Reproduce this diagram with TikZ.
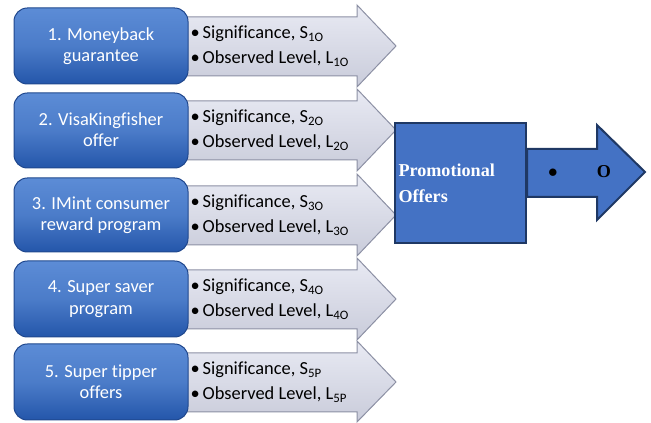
\documentclass[tikz,border=0pt]{standalone}
\usepackage{fontspec}
\setmainfont[Ligatures=NoCommon]{Carlito}
\newfontfamily\timesfont{Liberation Serif}
\usetikzlibrary{positioning}

\definecolor{promoblue}{RGB}{68,114,196}
\definecolor{promoedge}{RGB}{31,56,100}
\definecolor{boxtop}{RGB}{92,140,214}
\definecolor{boxbot}{RGB}{36,86,170}
\definecolor{boxedge}{RGB}{32,72,142}
\definecolor{arrowfill}{RGB}{214,217,234}
\definecolor{arrowedge}{RGB}{140,144,164}

\tikzset{every picture/.style={line width=0.75pt}}
\tikzset{
  offerbox/.style={draw=boxedge, rounded corners=10, top color=boxtop, bottom color=boxbot, middle color=boxtop!70!boxbot},
  offerarrow/.style={draw=arrowedge, top color=arrowfill!55!white, bottom color=arrowfill!85!gray},
  offertext/.style={inner sep=0.75pt, text=white, align=center, font=\fontsize{13.8}{16}\selectfont},
  bullettext/.style={anchor=west, inner sep=0.75pt, font=\fontsize{13.8}{15}\selectfont}
}

\begin{document}
\begin{tikzpicture}[x=0.75pt,y=0.75pt,yscale=-1,xscale=1]
\useasboundingbox (0,0) rectangle (651,423);

%Arrows behind the offer boxes
\draw [offerarrow] (180,17) -- (357,17) -- (357,5) -- (396,46) -- (357,87) -- (357,76) -- (180,76) -- cycle ;
\draw [offerarrow] (180,101) -- (357,101) -- (357,89) -- (396,130) -- (357,171) -- (357,160) -- (180,160) -- cycle ;
\draw [offerarrow] (180,186) -- (357,186) -- (357,174) -- (396,215) -- (357,256) -- (357,245) -- (180,245) -- cycle ;
\draw [offerarrow] (180,270) -- (357,270) -- (357,258) -- (396,299) -- (357,340) -- (357,329) -- (180,329) -- cycle ;
\draw [offerarrow] (180,353) -- (357,353) -- (357,341) -- (396,382) -- (357,422) -- (357,412) -- (180,412) -- cycle ;

%Offer boxes
\draw [offerbox] (14,8) rectangle (188,84) ;
\draw [offerbox] (14,93) rectangle (188,168) ;
\draw [offerbox] (14,178) rectangle (188,252) ;
\draw [offerbox] (14,261) rectangle (188,337) ;
\draw [offerbox] (14,344) rectangle (188,420) ;

% Text Node
\node [offertext] (m1) at (101,46) {1. Moneyback\\guarantee};
% Text Node
\node [offertext] (m2) at (101,130) {2. VisaKingfisher\\offer};
% Text Node
\node [offertext] (m3) at (101,215) {3. IMint consumer\\reward program};
% Text Node
\node [offertext] (m4) at (101,299) {4. Super saver\\program};
% Text Node
\node [offertext] (m5) at (101,382) {5. Super tipper\\offers};

% Text Node
\node [bullettext] (s1) at (189,34) {\textbullet\,Significance, S\textsubscript{1O}};
\node [bullettext] (l1) at (189,59) {\textbullet\,Observed Level, L\textsubscript{1O}};
% Text Node
\node [bullettext] (s2) at (189,118) {\textbullet\,Significance, S\textsubscript{2O}};
\node [bullettext] (l2) at (189,143) {\textbullet\,Observed Level, L\textsubscript{2O}};
% Text Node
\node [bullettext] (s3) at (189,203) {\textbullet\,Significance, S\textsubscript{3O}};
\node [bullettext] (l3) at (189,228) {\textbullet\,Observed Level, L\textsubscript{3O}};
% Text Node
\node [bullettext] (s4) at (189,287) {\textbullet\,Significance, S\textsubscript{4O}};
\node [bullettext] (l4) at (189,312) {\textbullet\,Observed Level, L\textsubscript{4O}};
% Text Node
\node [bullettext] (s5) at (189,370) {\textbullet\,Significance, S\textsubscript{5P}};
\node [bullettext] (l5) at (189,395) {\textbullet\,Observed Level, L\textsubscript{5P}};

%Promotional offers box
\draw [draw=promoedge, fill=promoblue, line width=1.5] (395,123) rectangle (526,243) ;
% Text Node
\node [anchor=west, inner sep=0.75pt, text=white, align=left, font=\timesfont\bfseries\fontsize{13.6}{19.5}\selectfont] (promo) at (397,183) {Promotional\\Offers};

%Output arrow
\draw [draw=promoedge, fill=promoblue, line width=1.5] (527,149) -- (597,149) -- (597,125) -- (645,172) -- (597,220) -- (597,197) -- (527,197) -- cycle ;
% Text Node
\node [inner sep=0.75pt, font=\timesfont\bfseries\fontsize{13.6}{14}\selectfont] (dot) at (553,173) {$\bullet$};
% Text Node
\node [inner sep=0.75pt, font=\timesfont\bfseries\fontsize{13.6}{14}\selectfont] (out) at (604,172) {O};

\end{tikzpicture}
\end{document}
